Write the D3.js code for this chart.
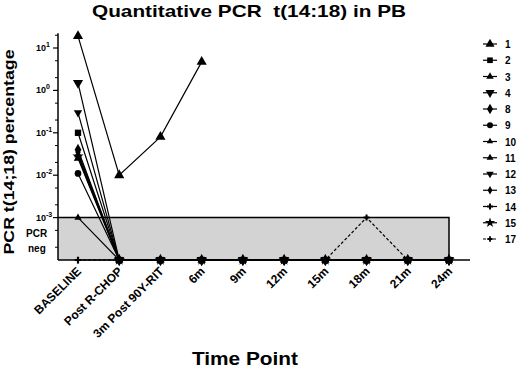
<!DOCTYPE html>
<html>
<head>
<meta charset="utf-8">
<script src="https://cdn.jsdelivr.net/npm/d3@7"></script>
<style>
  body { margin: 0; background: #fff; }
  svg { display: block; font-family: 'Liberation Sans', Arial, sans-serif; font-weight: bold; }
</style>
</head>
<body>
<div class="canvas"></div>
<script>
const width = 520
const height = 370

// data
const timePoints = ['BASELINE', 'Post R-CHOP', '3m Post 90Y-RIT', '6m', '9m', '12m', '15m', '18m', '21m', '24m']
const patients = ['1', '2', '3', '4', '8', '9', '10', '11', '12', '13', '14', '15', '17']
// 0 = PCR neg, null = no sample
const p1  = [19, 0.01, 0.08, 4.7, null, null, null, null, null, null]
const p2  = [0.1, 0, 0, 0, 0, 0, 0, 0, 0, 0]
const p3  = [0.025, 0, 0, 0, 0, 0, 0, 0, 0, 0]
const p4  = [1.5, 0, 0, 0, 0, 0, 0, 0, 0, 0]
const p8  = [0.04, 0, 0, 0, 0, 0, 0, 0, 0, 0]
const p9  = [0.011, 0, 0, 0, 0, 0, 0, 0, 0, 0]
const p10 = [0.001, 0, 0, 0, 0, 0, 0, 0, 0, 0]
const p11 = [0.03, 0, 0, 0, 0, 0, 0, 0, 0, 0]
const p12 = [0.3, 0, 0, 0, 0, 0, 0, 0, 0, 0]
const p13 = [0.035, 0, 0, 0, 0, 0, 0, 0, 0, 0]
const p14 = [0, 0, 0, 0, 0, 0, 0, 0, 0, 0]
const p15 = [0.028, 0, 0, 0, 0, 0, 0, 0, 0, 0]
const p17 = [0, 0, 0, 0, 0, 0, 0, 0.001, 0, 0]
const series = [p1, p2, p3, p4, p8, p9, p10, p11, p12, p13, p14, p15, p17]
const yTicks = [1e-3, 1e-2, 1e-1, 1, 10]
const yTickExp = ['-3', '-2', '-1', '0', '1']
const pcrNegLimit = 1e-3

// marker per patient
const shapes = [
  {t: d3.symbolTriangle, s: 45, rot: 0},
  {t: d3.symbolSquare, s: 40, rot: 0},
  {t: d3.symbolTriangle, s: 30, rot: 0},
  {t: d3.symbolTriangle, s: 45, rot: 180},
  {t: d3.symbolDiamond, s: 40, rot: 0},
  {t: d3.symbolCircle, s: 35, rot: 0},
  {t: d3.symbolTriangle, s: 22, rot: 0},
  {t: d3.symbolTriangle, s: 26, rot: 0},
  {t: d3.symbolTriangle, s: 30, rot: 180},
  {t: d3.symbolDiamond, s: 25, rot: 0},
  {t: d3.symbolCross, s: 25, rot: 0},
  {t: d3.symbolStar, s: 40, rot: 0},
  {t: d3.symbolCross, s: 20, rot: 0}
]

const svg = d3.select('.canvas')
  .append('svg')
  .attr('width', width)
  .attr('height', height)
  .attr('viewBox', `0 0 ${width} ${height}`)

const x = d3.scalePoint()
  .domain(timePoints)
  .range([78, 449])

const y = d3.scaleLog()
  .domain([1e-4, 10])
  .range([260, 48])

const yTop = y(Math.pow(10, 1.35))
const yNeg = y.range()[0]
const yVal = v => v === 0 ? yNeg : y(v)

// PCR neg band
svg.append('rect')
  .attr('x', 58)
  .attr('y', y(pcrNegLimit))
  .attr('width', x('24m') - 58)
  .attr('height', yNeg - y(pcrNegLimit))
  .attr('fill', '#d3d3d3')
  .attr('stroke', 'none')

svg.append('path')
  .attr('d', `M58,${y(pcrNegLimit)}H${x('24m')}V${yNeg}`)
  .attr('fill', 'none')
  .attr('stroke', '#000')
  .attr('stroke-width', 1.5)

// axes
svg.append('line')
  .attr('x1', 58).attr('x2', 58)
  .attr('y1', yTop).attr('y2', yNeg)
  .attr('stroke', '#000').attr('stroke-width', 1.5)

svg.append('line')
  .attr('x1', 58).attr('x2', 470)
  .attr('y1', yNeg).attr('y2', yNeg)
  .attr('stroke', '#000').attr('stroke-width', 1.5)

// minor ticks
const minor = []
yTicks.forEach(t => [2, 5].forEach(m => { if (t * m < Math.pow(10, 1.35)) minor.push(t * m) }))
minor.push(2e-4, 5e-4)
svg.selectAll('.minor')
  .data(minor)
  .enter()
  .append('line')
  .attr('class', 'minor')
  .attr('x1', 55).attr('x2', 58)
  .attr('y1', d => y(d)).attr('y2', d => y(d))
  .attr('stroke', '#000')

svg.selectAll('.major')
  .data(yTicks)
  .enter()
  .append('line')
  .attr('class', 'major')
  .attr('x1', 53).attr('x2', 58)
  .attr('y1', d => y(d)).attr('y2', d => y(d))
  .attr('stroke', '#000').attr('stroke-width', 1.2)

const tickLab = svg.selectAll('.ylab')
  .data(yTicks)
  .enter()
  .append('text')
  .attr('class', 'ylab')
  .attr('x', 36)
  .attr('y', d => y(d) + 3)
  .attr('font-size', 9)
tickLab.append('tspan').text('10')
tickLab.append('tspan')
  .attr('dy', -4)
  .attr('font-size', 7)
  .text((d, i) => yTickExp[i])

svg.append('text').attr('x', 26).attr('y', 237).attr('font-size', 10).text('PCR')
svg.append('text').attr('x', 28).attr('y', 252).attr('font-size', 10).text('neg')

// x ticks
svg.selectAll('.xtick')
  .data(timePoints)
  .enter()
  .append('line')
  .attr('x1', d => x(d)).attr('x2', d => x(d))
  .attr('y1', yNeg).attr('y2', yNeg + 4)
  .attr('stroke', '#000')

svg.selectAll('.xlab')
  .data(timePoints)
  .enter()
  .append('text')
  .attr('class', 'xlab')
  .attr('text-anchor', 'end')
  .attr('font-size', 12)
  .attr('transform', d => `translate(${x(d) + 4}, ${yNeg + 12}) rotate(-45)`)
  .text(d => d)

// lines
const line = d3.line()
  .defined(d => d !== null)
  .x((d, i) => x(timePoints[i]))
  .y(d => yVal(d))

svg.selectAll('.series')
  .data(series)
  .enter()
  .append('path')
  .attr('class', 'series')
  .attr('d', d => line(d))
  .attr('fill', 'none')
  .attr('stroke', '#000')
  .attr('stroke-width', 1.2)
  .attr('stroke-dasharray', (d, i) => patients[i] === '17' ? '3,2' : null)

// markers
series.forEach((s, k) => {
  const sh = shapes[k]
  svg.append('g')
    .selectAll('path')
    .data(s.map((v, i) => ({v, i})).filter(d => d.v !== null))
    .enter()
    .append('path')
    .attr('d', d3.symbol().type(sh.t).size(sh.s))
    .attr('transform', d => `translate(${x(timePoints[d.i])}, ${yVal(d.v)}) rotate(${sh.rot})`)
    .attr('fill', '#000')
})

// titles
svg.append('text')
  .attr('x', 92)
  .attr('y', 17)
  .attr('font-size', 17)
  .attr('textLength', 314)
  .attr('lengthAdjust', 'spacingAndGlyphs')
  .style('white-space', 'pre')
  .text('Quantitative PCR  t(14:18) in PB')

svg.append('text')
  .attr('transform', 'translate(14, 152) rotate(-90)')
  .attr('text-anchor', 'middle')
  .attr('font-size', 15)
  .attr('textLength', 205)
  .attr('lengthAdjust', 'spacingAndGlyphs')
  .text('PCR t(14;18) percentage')

svg.append('text')
  .attr('x', 192)
  .attr('y', 365)
  .attr('font-size', 19)
  .attr('textLength', 106)
  .attr('lengthAdjust', 'spacingAndGlyphs')
  .text('Time Point')

// legend
const legend = svg.append('g')
const rowY = i => 44 + i * 16.25
patients.forEach((p, i) => {
  legend.append('line')
    .attr('x1', 483).attr('x2', 497)
    .attr('y1', rowY(i)).attr('y2', rowY(i))
    .attr('stroke', '#000')
    .attr('stroke-width', 1.2)
    .attr('stroke-dasharray', p === '17' ? '3,2' : null)
  legend.append('path')
    .attr('d', d3.symbol().type(shapes[i].t).size(shapes[i].s * 0.8))
    .attr('transform', `translate(490, ${rowY(i)}) rotate(${shapes[i].rot})`)
    .attr('fill', '#000')
  legend.append('text')
    .attr('x', 505)
    .attr('y', rowY(i) + 4)
    .attr('font-size', 10)
    .text(p)
})
</script>
</body>
</html>
